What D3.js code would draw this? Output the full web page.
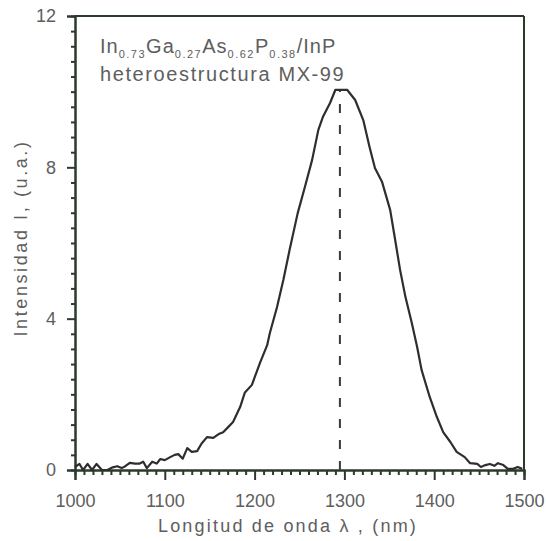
<!DOCTYPE html>
<html lang="es">

<head>
  <meta charset="UTF-8">
  <title>Espectro MX-99</title>
  <style>
    body {
      margin: 0;
      background: #fff;
    }

    text {
      font-family: "Liberation Sans", Arial, sans-serif;
      fill: #5e5e5e;
    }
  </style>
</head>

<body>
  <svg id="chart"></svg>

  <script src="https://d3js.org/d3.v7.min.js"></script>
  <script>
    // datos
    var wavelength = [1000, 1005, 1009, 1014, 1019, 1024, 1030, 1036, 1042, 1047, 1052, 1056, 1061, 1067, 1072,
      1076, 1080, 1086, 1091, 1095, 1100, 1106, 1111, 1115, 1120, 1125, 1130, 1136, 1141, 1147, 1154, 1160,
      1165, 1170, 1176, 1184, 1189, 1197, 1206, 1214, 1217, 1225, 1232, 1239, 1248, 1256, 1264, 1271, 1276,
      1284, 1290, 1303, 1312, 1321, 1328, 1334, 1342, 1347, 1351, 1356, 1362, 1368, 1375, 1381, 1386, 1395,
      1403, 1410, 1418, 1425, 1434, 1440, 1448, 1452, 1457, 1462, 1467, 1471, 1477, 1482, 1488, 1493, 1498];
    var intensity = [0.08, 0.16, 0.0, 0.16, 0.0, 0.16, 0.0, 0.0, 0.07, 0.1, 0.05, 0.1, 0.19, 0.17, 0.17,
      0.22, 0.05, 0.22, 0.17, 0.29, 0.26, 0.34, 0.4, 0.42, 0.3, 0.58, 0.48, 0.5, 0.7, 0.87, 0.85, 0.95,
      1.0, 1.12, 1.27, 1.67, 2.04, 2.25, 2.83, 3.30, 3.62, 4.31, 5.02, 5.82, 6.79, 7.48, 8.19, 8.99, 9.33,
      9.70, 10.05, 10.05, 9.78, 9.25, 8.54, 7.98, 7.61, 7.2, 6.87, 6.16, 5.29, 4.57, 3.89, 3.25, 2.64, 1.93,
      1.40, 1.0, 0.74, 0.48, 0.34, 0.18, 0.16, 0.08, 0.13, 0.16, 0.11, 0.18, 0.13, 0.03, 0.03, 0.08, 0.03];

    var peakWavelength = 1295;
    var peakIntensity = 10.05;

    var xTicks = [1000, 1100, 1200, 1300, 1400, 1500];
    var yTicks = [0, 4, 8, 12];

    var titleParts = [
      ["In", "0.73"],
      ["Ga", "0.27"],
      ["As", "0.62"],
      ["P", "0.38"],
      ["/InP", ""]
    ];
    var subtitle = "heteroestructura MX-99";

    /* parametros basicos */
    var W = 546,
      H = 541;
    var margin = {
      top: 16,
      right: 22,
      bottom: 71,
      left: 75
    };
    var width = W - margin.left - margin.right;
    var height = H - margin.top - margin.bottom;
    var axisColor = "#2c3a2c";

    var x = d3.scaleLinear().domain([1000, 1500]).range([0, width]);
    var y = d3.scaleLinear().domain([0, 12]).range([height, 0]);

    var svg = d3.select("#chart")
      .attr("width", W)
      .attr("height", H);

    var g = svg.append("g")
      .attr("transform", "translate(" + margin.left + "," + margin.top + ")");

    // marco superior y derecho
    g.append("line")
      .attr("x1", 0).attr("x2", width)
      .attr("y1", 0).attr("y2", 0)
      .attr("stroke", axisColor).attr("stroke-width", 2);
    g.append("line")
      .attr("x1", width).attr("x2", width)
      .attr("y1", 0).attr("y2", height)
      .attr("stroke", axisColor).attr("stroke-width", 2);

    // ticks menores
    var xMinor = d3.range(1000, 1501, 10).filter(function (v) {
      return xTicks.indexOf(v) < 0;
    });
    var yMinor = d3.range(0, 31).map(function (i) {
      return i * 0.4;
    }).filter(function (v, i) {
      return i % 10 != 0;
    });

    var axisX = d3.axisBottom(x).tickValues(xTicks).tickFormat(d3.format("d"))
      .tickSize(10).tickPadding(14);
    var axisY = d3.axisLeft(y).tickValues(yTicks).tickSize(8).tickPadding(11);

    var gx = g.append("g")
      .attr("transform", "translate(0," + height + ")")
      .call(axisX);
    var gy = g.append("g").call(axisY);

    gx.append("g").call(d3.axisBottom(x).tickValues(xMinor).tickSize(5).tickFormat(""));
    gy.append("g").call(d3.axisLeft(y).tickValues(yMinor).tickSize(4).tickFormat(""));

    g.selectAll(".domain").attr("stroke", axisColor).attr("stroke-width", 2);
    g.selectAll(".tick line").attr("stroke", axisColor).attr("stroke-width", 2);
    g.selectAll(".tick text")
      .attr("fill", "#5e5e5e")
      .style("font-size", "18px")
      .style("font-family", "'Liberation Sans', Arial, sans-serif");

    // linea punteada del pico
    g.append("line")
      .attr("x1", x(peakWavelength)).attr("x2", x(peakWavelength))
      .attr("y1", y(0)).attr("y2", y(peakIntensity))
      .attr("stroke", "#3a3a3a")
      .attr("stroke-width", 2)
      .attr("stroke-dasharray", "9,12");

    // espectro
    var line = d3.line()
      .x(function (d, i) {
        return x(wavelength[i]);
      })
      .y(function (d) {
        return y(d);
      });

    g.append("path")
      .datum(intensity)
      .attr("fill", "none")
      .attr("stroke", "#2e2e2e")
      .attr("stroke-width", 2.2)
      .attr("stroke-linejoin", "round")
      .attr("d", line);

    // titulo con subindices
    var t1 = g.append("text")
      .attr("x", 25)
      .attr("y", 37)
      .style("font-size", "20px");
    var shifted = false;
    titleParts.forEach(function (p) {
      t1.append("tspan")
        .attr("dy", shifted ? -5 : 0)
        .style("letter-spacing", "1px")
        .text(p[0]);
      shifted = false;
      if (p[1]) {
        t1.append("tspan")
          .attr("dy", 5)
          .style("font-size", "11px")
          .style("letter-spacing", "1.5px")
          .text(p[1]);
        shifted = true;
      }
    });

    g.append("text")
      .attr("x", 25)
      .attr("y", 65)
      .style("font-size", "20px")
      .style("letter-spacing", "1.6px")
      .text(subtitle);

    // titulos de ejes
    svg.append("text")
      .attr("x", 288)
      .attr("y", 532)
      .attr("text-anchor", "middle")
      .style("font-size", "18px")
      .style("letter-spacing", "2.2px")
      .text("Longitud de onda λ , (nm)");

    svg.append("text")
      .attr("transform", "translate(27," + 238 + ") rotate(-90)")
      .attr("text-anchor", "middle")
      .style("font-size", "18px")
      .style("letter-spacing", "2.6px")
      .text("Intensidad I, (u.a.)");
  </script>
</body>

</html>
